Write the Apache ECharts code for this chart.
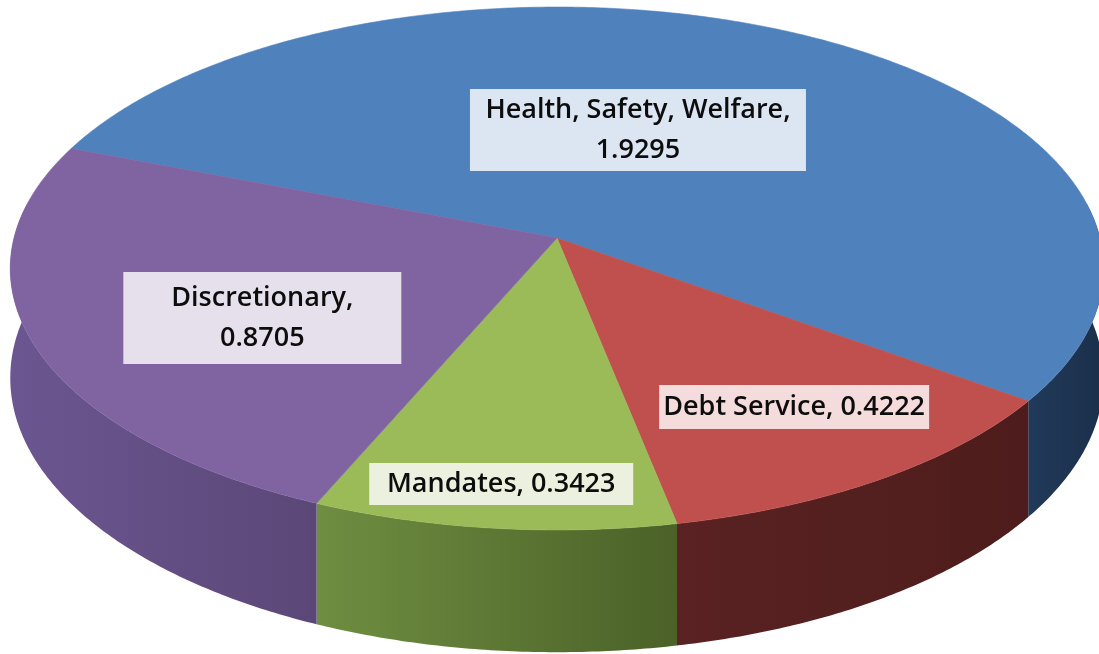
<!DOCTYPE html>
<html><head><meta charset="utf-8">
<script src="https://cdn.jsdelivr.net/npm/echarts@6/dist/echarts.min.js"></script>
<style>html,body{margin:0;padding:0;background:#fff}#c{width:1099px;height:654px}</style>
</head><body><div id="c"></div>
<script>
// ---- data ----
const categories = ['Health, Safety, Welfare', 'Debt Service', 'Mandates', 'Discretionary'];
const values = [1.9295, 0.4222, 0.3423, 0.8705];
const valueLabels = ['1.9295', '0.4222', '0.3423', '0.8705'];

// ---- styles / layout (not data) ----
const topColors = ['#4F81BD', '#C0504D', '#9BBB59', '#8064A2'];
const wallColors = [['#213a5a', '#1b2f4a'], ['#5a2222', '#4e1c1c'], ['#6f8e41', '#4b6128'], ['#6c5691', '#5b4777']];
const labelCfg = [
  { da: 9.35, r: 0.475, w: 336, h: 82, wrap: true },
  { da: 1.4, r: 0.726, w: 270, h: 44, wrap: false },
  { da: -0.2, r: 0.857, w: 264, h: 42, wrap: false },
  { da: 6.35, r: 0.600, w: 278, h: 92, wrap: true }
];
const START = 158.8;            // start angle (deg), clockwise
const K = 0.1166;               // perspective factor

const total = values.reduce((a, b) => a + b, 0);
const angles = [];
(function () {
  let cum = 0;
  values.forEach(v => {
    const a0 = START - 360 * cum / total;
    cum += v;
    const a1 = START - 360 * cum / total;
    angles.push([a0, a1]);
  });
})();

function geom(api) {
  const W = api.getWidth(), H = api.getHeight();
  return { x0: W * 557 / 1099, y0: H * 238 / 654, s: W * 543 / 1099, t: H * 257.9 / 654, hh: H * 108 / 654 };
}
function proj(g, deg, r, down) {
  const a = deg * Math.PI / 180;
  const X = r * Math.cos(a), Y = r * Math.sin(a);
  const d = 1 + K * Y;
  return [g.x0 + g.s * X / d, g.y0 - g.t * Y / d + (down ? g.hh / d : 0)];
}
function norm(d) { let x = ((d % 360) + 360) % 360; if (x > 180) x -= 360; return x; }
function visible(d) { const n = norm(d); return n <= 8 || n >= 172; }

function wallItem(params, api) {
  const i = params.dataIndex;
  const g = geom(api);
  const [a0, a1] = angles[i];
  const runs = [];
  let cur = null;
  for (let d = a0; d >= a1 - 1e-9; d -= 0.5) {
    if (visible(d)) { if (!cur) { cur = []; runs.push(cur); } cur.push(d); }
    else cur = null;
  }
  if (visible(a1) && cur && cur[cur.length - 1] !== a1) cur.push(a1);
  const children = runs.filter(r => r.length > 1).map(run => {
    const top = run.map(d => proj(g, d, 1, false));
    const bot = run.slice().reverse().map(d => proj(g, d, 1, true));
    return {
      type: 'polygon',
      shape: { points: top.concat(bot) },
      style: {
        fill: new echarts.graphic.LinearGradient(0, 0, 1, 0, [
          { offset: 0, color: wallColors[i][0] }, { offset: 1, color: wallColors[i][1] }
        ]),
        stroke: null
      }
    };
  });
  return { type: 'group', children };
}

function topItem(params, api) {
  const i = params.dataIndex;
  const g = geom(api);
  const [a0, a1] = angles[i];
  const pts = [[g.x0, g.y0]];
  for (let d = a0; d > a1; d -= 0.5) pts.push(proj(g, d, 1, false));
  pts.push(proj(g, a1, 1, false));
  return {
    type: 'polygon',
    shape: { points: pts },
    style: { fill: topColors[i], stroke: topColors[i], lineWidth: 0.6 }
  };
}

function labelItem(params, api) {
  const i = params.dataIndex;
  const g = geom(api);
  const c = labelCfg[i];
  const mid = (angles[i][0] + angles[i][1]) / 2 + c.da;
  const p = proj(g, mid, c.r, false);
  const txt = categories[i] + ',' + (c.wrap ? '\n' : ' ') + valueLabels[i];
  return {
    type: 'text',
    x: p[0], y: p[1] + 2,
    style: {
      text: txt,
      align: 'center', verticalAlign: 'middle',
      fontFamily: 'Open Sans', fontSize: 27, fontWeight: 600,
      lineHeight: 40,
      fill: '#0d0d0d',
      width: c.w, height: c.h,
      backgroundColor: 'rgba(255,255,255,0.8)'
    },
    z2: 100
  };
}

const chart = echarts.init(document.getElementById('c'), null, { renderer: 'canvas' });
const seriesData = values.map((v, i) => ({ name: categories[i], value: v }));
chart.setOption({
  animation: false,
  series: [
    { type: 'custom', coordinateSystem: 'none', z: 1, data: seriesData, renderItem: wallItem },
    { type: 'custom', coordinateSystem: 'none', z: 2, data: seriesData, renderItem: topItem },
    { type: 'custom', coordinateSystem: 'none', z: 3, data: seriesData, renderItem: labelItem }
  ]
});
</script></body></html>
